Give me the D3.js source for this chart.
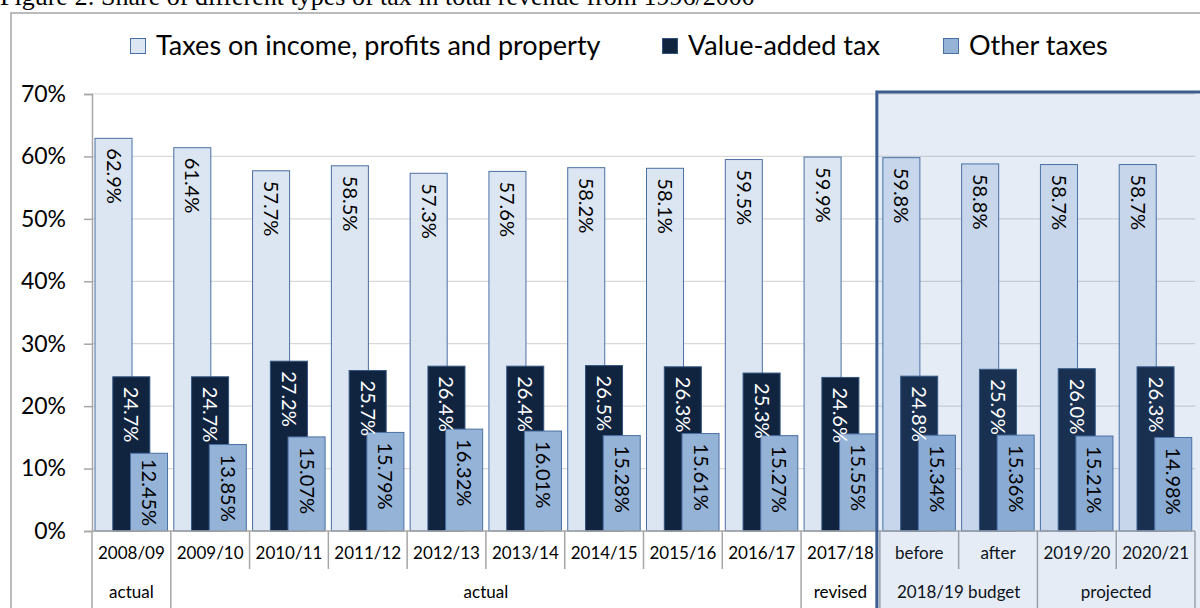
<!DOCTYPE html>
<html>
<head>
<meta charset="utf-8">
<script src="https://cdn.jsdelivr.net/npm/d3@7"></script>
<style>
  body { margin: 0; background: #fff; overflow: hidden; }
  svg text { font-family: Lato, "Noto Sans", sans-serif; fill: #000; }
</style>
</head>
<body>
<svg id="chart"></svg>
<script>
// chart data
const categories = ['2008/09', '2009/10', '2010/11', '2011/12', '2012/13', '2013/14', '2014/15',
  '2015/16', '2016/17', '2017/18', 'before', 'after', '2019/20', '2020/21'];
const incomeTax = [62.9, 61.4, 57.7, 58.5, 57.3, 57.6, 58.2, 58.1, 59.5, 59.9, 59.8, 58.8, 58.7, 58.7];
const vatTax = [24.7, 24.7, 27.2, 25.7, 26.4, 26.4, 26.5, 26.3, 25.3, 24.6, 24.8, 25.9, 26.0, 26.3];
const otherTax = [12.45, 13.85, 15.07, 15.79, 16.32, 16.01, 15.28, 15.61, 15.27, 15.55, 15.34, 15.36, 15.21, 14.98];
const seriesNames = ['Taxes on income, profits and property', 'Value-added tax', 'Other taxes'];
const groupLabels = ['actual', 'actual', 'revised', '2018/19 budget', 'projected'];
const groupSpans = [[0, 1], [1, 9], [9, 10], [10, 12], [12, 14]];
const yTicks = [0, 10, 20, 30, 40, 50, 60, 70];
const titleText = 'Figure 2: Share of different types of tax in total revenue from 1996/2000';

const width = 1200, height = 608;
const plot = { left: 92, right: 1195, top: 94, bottom: 531 };

const svg = d3.select('#chart').attr('width', width).attr('height', height);

// scales
const x = d3.scaleBand().domain(categories).range([plot.left, plot.right]).padding(0);
const y = d3.scaleLinear().domain([0, 70]).range([plot.bottom, plot.top]);
const bw = x.bandwidth();
const barW = bw * 0.47;

const series = [
  { key: 'income', values: incomeTax, off: 3, fill: '#dce6f2', stroke: '#4a6fa3', text: '#000', fmt: d3.format('.1f') },
  { key: 'vat', values: vatTax, off: 20.8, fill: '#10233f', stroke: '#34557f', text: '#fff', fmt: d3.format('.1f') },
  { key: 'other', values: otherTax, off: 38.5, fill: '#95b3d7', stroke: '#4a6fa3', text: '#000', fmt: d3.format('.2f') }
];

// caption, cut off by the top of the page as in the source
svg.append('text')
  .attr('x', 0).attr('y', 5)
  .style('font-family', '"Liberation Serif", serif')
  .style('font-size', '26px')
  .text(titleText);

// chart frame
svg.append('path')
  .attr('d', `M11,${height + 2} L11,13 L${width + 2},13`)
  .attr('fill', 'none').attr('stroke', '#a6a6a6').attr('stroke-width', 1.5);

// legend
const legendX = [130, 662, 943];
const legend = svg.append('g');
series.forEach((s, i) => {
  const g = legend.append('g').attr('transform', `translate(${legendX[i]},46)`);
  g.append('rect').attr('x', 0.5).attr('y', -7.5).attr('width', 15).attr('height', 15)
    .attr('fill', s.fill).attr('stroke', s.stroke);
  g.append('text').attr('x', 26).attr('y', 0).attr('dy', '0.35em')
    .style('font-size', '27px').text(seriesNames[i]);
});

// gridlines
svg.append('g').selectAll('line').data(yTicks.filter(d => d > 0)).join('line')
  .attr('x1', plot.left).attr('x2', plot.right)
  .attr('y1', d => y(d)).attr('y2', d => y(d))
  .attr('stroke', '#d9d9d9').attr('stroke-width', 1.2);

// bars
series.forEach(s => {
  svg.append('g').selectAll('rect').data(s.values).join('rect')
    .attr('x', (d, i) => x(categories[i]) + s.off)
    .attr('y', d => y(d))
    .attr('width', barW)
    .attr('height', d => y(0) - y(d))
    .attr('fill', s.fill).attr('stroke', s.stroke).attr('stroke-width', 1);
});

// y axis
const yAxis = d3.axisLeft(y).tickValues(yTicks).tickFormat(d => d + '%').tickSize(8).tickPadding(18);
const yAxisG = svg.append('g').attr('transform', `translate(${plot.left},0)`).call(yAxis);
yAxisG.select('.domain').attr('stroke', '#a6a6a6').attr('stroke-width', 1.5);
yAxisG.selectAll('.tick line').attr('stroke', '#a6a6a6').attr('stroke-width', 1.5);
yAxisG.selectAll('.tick text').style('font-size', '23px').style('font-family', 'Lato, sans-serif').attr('fill', '#000');

// category axis baseline
svg.append('line')
  .attr('x1', plot.left).attr('x2', plot.right)
  .attr('y1', y(0)).attr('y2', y(0))
  .attr('stroke', '#a6a6a6').attr('stroke-width', 1.5);

// category separators (long at group boundaries, short otherwise)
const groupEdges = new Set(groupSpans.flatMap(g => g));
const edges = d3.range(0, categories.length + 1);
svg.append('g').selectAll('line').data(edges).join('line')
  .attr('x1', i => plot.left + i * bw).attr('x2', i => plot.left + i * bw)
  .attr('y1', y(0))
  .attr('y2', i => groupEdges.has(i) ? height + 2 : 569)
  .attr('stroke', '#a6a6a6').attr('stroke-width', 1.5);

// category labels
svg.append('g').selectAll('text').data(categories).join('text')
  .attr('x', d => x(d) + bw / 2).attr('y', 553).attr('dy', '0.35em')
  .attr('text-anchor', 'middle')
  .style('font-size', '17px')
  .text(d => d);

// group labels
svg.append('g').selectAll('text').data(groupSpans).join('text')
  .attr('x', d => plot.left + (d[0] + d[1]) / 2 * bw).attr('y', 592).attr('dy', '0.35em')
  .attr('text-anchor', 'middle')
  .style('font-size', '17px')
  .text((d, i) => groupLabels[i]);

// highlighted forecast box
const boxX = plot.left + 10 * bw - 3;
svg.append('rect')
  .attr('x', boxX).attr('y', 92)
  .attr('width', width - boxX + 10).attr('height', height - 92 + 10)
  .attr('fill', 'rgba(79,129,189,0.15)')
  .attr('stroke', '#3b5e8f').attr('stroke-width', 3);

// rotated data labels inside bar ends
series.forEach(s => {
  svg.append('g').selectAll('text').data(s.values).join('text')
    .attr('transform', (d, i) => {
      const cx = x(categories[i]) + s.off + barW / 2;
      const h = y(0) - y(d);
      const pad = Math.min(10, Math.max(3, h - 72));
      return `translate(${cx},${y(d) + pad}) rotate(90)`;
    })
    .attr('dy', '0.35em')
    .style('font-size', '20px')
    .style('fill', s.text)
    .text(d => s.fmt(d) + '%');
});
</script>
</body>
</html>
